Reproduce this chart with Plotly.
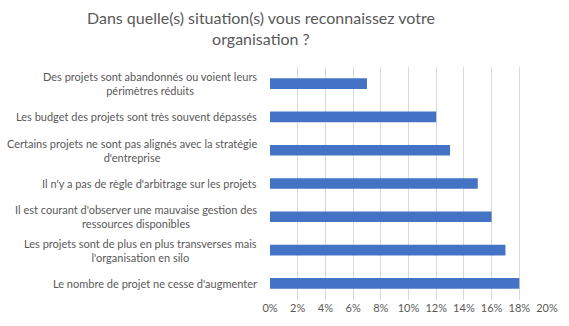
import plotly.graph_objects as go

categories = [
    "Des projets sont abandonnés ou voient leurs<br>périmètres réduits",
    "Les budget des projets sont très souvent dépassés",
    "Certains projets ne sont pas alignés avec la stratégie<br>d'entreprise",
    "Il n'y a pas de règle d'arbitrage sur les projets",
    "Il est courant d'observer une mauvaise gestion des<br>ressources disponibles",
    "Les projets sont de plus en plus transverses mais<br>l'organisation en silo",
    "Le nombre de projet ne cesse d'augmenter",
]
values = [0.07, 0.12, 0.13, 0.15, 0.16, 0.17, 0.18]
title_text = "Dans quelle(s) situation(s) vous reconnaissez votre<br>organisation ?"

GRAY = "#595959"
FONT = "Lato"

fig = go.Figure()
fig.add_trace(go.Bar(
    y=categories, x=values, orientation="h",
    marker=dict(color="#4472C4", line=dict(width=0)),
    hoverinfo="x+y",
))

annotations = []
for c in categories:
    annotations.append(dict(
        x=0, xref="paper", y=c, yref="y", text=c,
        xanchor="right", yanchor="middle", align="center",
        xshift=-11, showarrow=False,
        font=dict(family=FONT, size=11, color=GRAY),
    ))

# chart title (two lines, centred)
annotations.append(dict(
    text=title_text, xref="paper", yref="paper",
    x=(261 - 270) / 277, y=1, yshift=61,
    xanchor="center", yanchor="top", align="center", showarrow=False,
    font=dict(family=FONT, size=16, color=GRAY),
))

fig.update_layout(
    width=569, height=326,
    margin=dict(l=270, r=22, t=67, b=26),
    paper_bgcolor="white", plot_bgcolor="white",
    bargap=0.68,
    showlegend=False,
    xaxis=dict(range=[0, 0.2], dtick=0.02, tickformat=".0%",
               showgrid=True, gridcolor="#d9d9d9", gridwidth=1,
               zeroline=False, showline=False, ticks="",
               tickfont=dict(family=FONT, size=11, color=GRAY)),
    yaxis=dict(autorange="reversed", showticklabels=False, showgrid=False,
               zeroline=False, showline=False, ticks=""),
    annotations=annotations,
)

fig.write_html("out.html")
